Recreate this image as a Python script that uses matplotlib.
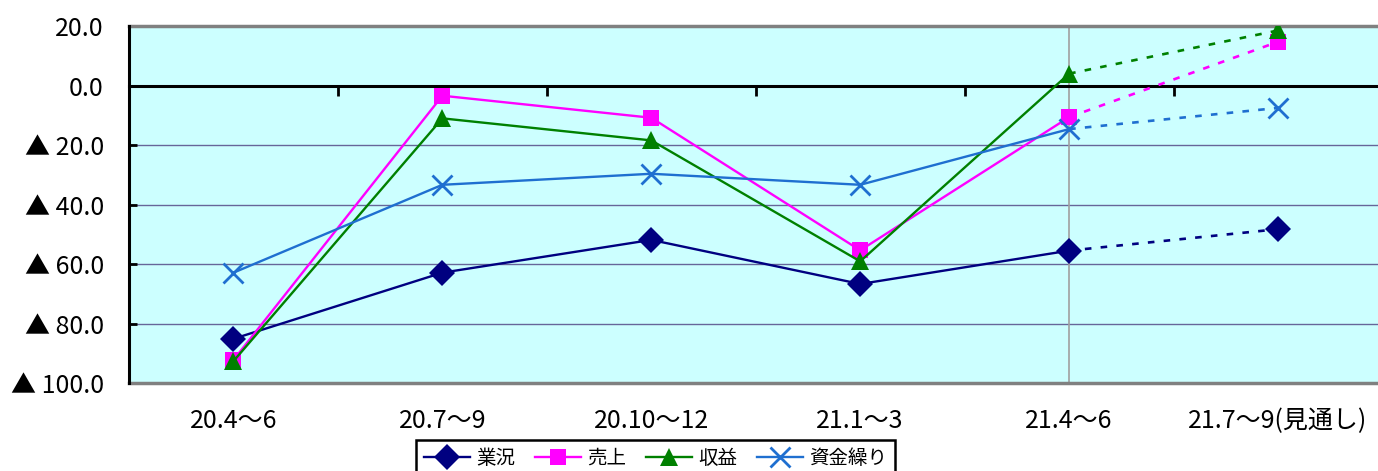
import matplotlib
matplotlib.use("Agg")
import matplotlib.pyplot as plt
import numpy as np

plt.rcParams['font.family'] = ['Noto Sans CJK JP', 'DejaVu Sans']

# 四半期ごとのDI（▲はマイナス）
periods = ['20.4～6', '20.7～9', '20.10～12', '21.1～3', '21.4～6', '21.7～9(見通し)']
gyokyo = [-85.0, -62.8, -51.8, -66.6, -55.4, -48.2]     # 業況
uriage = [-92.1, -3.4, -10.8, -55.3, -10.6, 14.7]       # 売上
shueki = [-92.5, -11.0, -18.4, -59.0, 4.0, 18.5]        # 収益
shikin = [-62.8, -33.3, -29.6, -33.3, -14.6, -7.5]      # 資金繰り

y_ticks = [20, 0, -20, -40, -60, -80, -100]
y_labels = ['20.0', '0.0', '▲ 20.0', '▲ 40.0', '▲ 60.0', '▲ 80.0', '▲ 100.0']

series = [
    ('業況', gyokyo, '#000080', 'D', 13),
    ('売上', uriage, '#FF00FF', 's', 11),
    ('収益', shueki, '#008000', '^', 13),
    ('資金繰り', shikin, '#1F6FD0', 'x', 14),
]

fig = plt.figure(figsize=(13.78, 4.71), dpi=100)
W, H = 1378, 471
ax = fig.add_axes([129 / W, 1 - 383.5 / H, (1382.5 - 129) / W, (383.5 - 26) / H])
ax.set_facecolor('#CCFFFF')

x = np.arange(len(periods))
last = len(periods) - 1  # 見通しは点線

handles = []
for name, vals, color, mk, ms in series:
    extra = dict(markeredgewidth=2) if mk == 'x' else dict(markeredgewidth=0)
    h, = ax.plot(x[:last], vals[:last], color=color, lw=1.7, marker=mk,
                 markersize=ms, zorder=4, label=name, **extra)
    ax.plot(x[last - 1:], vals[last - 1:], color=color, lw=1.9,
            linestyle=(0, (2.5, 3.5)), marker=mk, markersize=ms,
            markevery=[1], zorder=4, **extra)
    handles.append(h)

ax.set_xlim(-0.5, len(periods) - 0.5)
ax.set_ylim(-100, 20)

# 目盛線
for v in [-20, -40, -60, -80]:
    ax.axhline(v, color='#666699', lw=1.0, zorder=1)
ax.axvline(4, color='#A0A0A0', lw=1.2, zorder=1)
ax.axhline(-100, color='#808080', lw=2.5, zorder=2, clip_on=False)

ax.spines['right'].set_visible(False)
ax.spines['top'].set_color('#808080')
ax.spines['top'].set_linewidth(2.5)
ax.spines['left'].set_color('black')
ax.spines['left'].set_linewidth(2.2)
ax.spines['left'].set_zorder(5)

# 横軸は0の位置
ax.spines['bottom'].set_position(('data', 0))
ax.spines['bottom'].set_color('black')
ax.spines['bottom'].set_linewidth(2.2)
ax.set_xticks(x[:-1] + 0.5)
ax.set_xticklabels([])
ax.tick_params(axis='x', direction='out', length=7, width=2, color='black')

ax.set_yticks(y_ticks)
ax.set_yticklabels(y_labels, fontsize=18)
ax.tick_params(axis='y', direction='in', length=6, width=2, pad=18, color='black')

for xi, lab in zip(x, periods):
    ax.text(xi, -0.105, lab, transform=ax.get_xaxis_transform(), ha='center',
            va='center', fontsize=18)

leg = fig.legend(handles=handles, loc='upper left', bbox_to_anchor=(416 / W, 1 - 440 / H),
                 ncol=4, frameon=True, fancybox=False, edgecolor='black', framealpha=1,
                 fontsize=14, handlelength=2.4, handletextpad=0.3, columnspacing=1.0,
                 borderaxespad=0, borderpad=0.4)
leg.get_frame().set_linewidth(1.8)

fig.savefig('out.png', dpi=100, facecolor='white')
